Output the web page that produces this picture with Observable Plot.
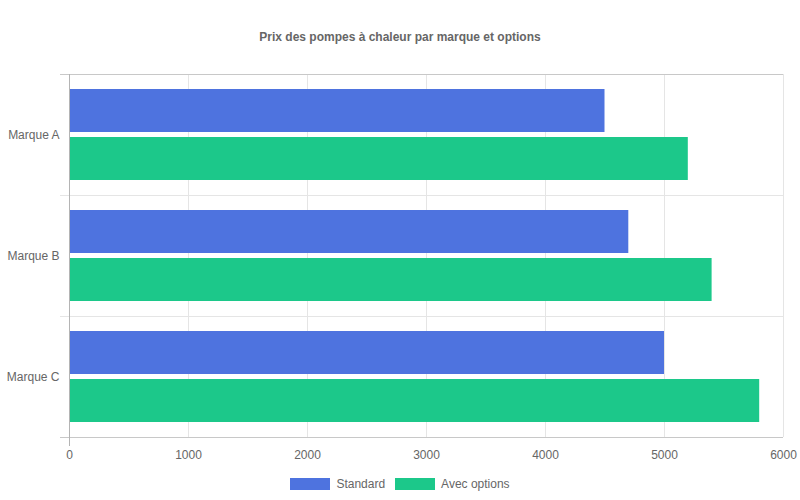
<!DOCTYPE html>
<html>
<head>
<meta charset="utf-8">
<script src="https://cdn.jsdelivr.net/npm/d3@7"></script>
<script src="https://cdn.jsdelivr.net/npm/@observablehq/plot@0.6"></script>
<style>
  html, body { margin: 0; padding: 0; background: #fff; }
  body { width: 800px; height: 500px; position: relative; overflow: hidden;
         font-family: "Liberation Sans", Arial, Helvetica, sans-serif; color: #666; }
  #title { position: absolute; top: 29px; left: 0; width: 800px; text-align: center;
           font-size: 12px; font-weight: bold; color: #666; line-height: 16px; }
  #chart { position: absolute; top: 60px; left: 0; }
  #legend { position: absolute; top: 477px; left: 0; width: 800px; display: flex;
            justify-content: center; font-size: 12px; color: #666; line-height: 14px; }
  .item { display: flex; align-items: center; margin: 0 5px; }
  .swatch { width: 40px; height: 12px; margin-right: 6px; }
</style>
</head>
<body>
<div id="title">Prix des pompes à chaleur par marque et options</div>
<div id="chart"></div>
<div id="legend"></div>
<script>
const brands = ["Marque A", "Marque B", "Marque C"];
const seriesNames = ["Standard", "Avec options"];
const standardPrices = [4500, 4700, 5000];
const optionPrices = [5200, 5400, 5800];
const xTicks = [0, 1000, 2000, 3000, 4000, 5000, 6000];
const colors = ["#4e73df", "#1cc88a"];

const rows = brands.flatMap((b, i) => [
  {brand: b, series: seriesNames[0], value: standardPrices[i]},
  {brand: b, series: seriesNames[1], value: optionPrices[i]}
]);

const W = 800, H = 405, mt = 14, mb = 28, ml = 69, mr = 17;
const bw = (H - mt - mb) / brands.length;

const plot = Plot.plot({
  width: W, height: H,
  marginTop: mt, marginBottom: mb, marginLeft: ml, marginRight: mr,
  style: {fontFamily: '"Liberation Sans", Arial, Helvetica, sans-serif', fontSize: "12px", color: "#666", background: "#fff"},
  x: {domain: [0, 6000]},
  y: {domain: brands, padding: 0},
  marks: [
    Plot.gridX(xTicks, {stroke: "#e5e5e5", strokeOpacity: 1}),
    Plot.ruleY(brands.slice(1), {y: d => d, dy: -bw / 2, stroke: "#e5e5e5", insetLeft: -9}),
    Plot.ruleY(brands.slice(0, 1), {y: d => d, dy: -bw / 2, stroke: "#c8c8c8", insetLeft: -9}),
    Plot.ruleY(brands.slice(-1), {y: d => d, dy: bw / 2, stroke: "#c8c8c8", insetLeft: -9}),
    Plot.barX(rows.filter(d => d.series === seriesNames[0]), {
      x: "value", y: "brand", fill: colors[0], insetTop: 15, insetBottom: bw - 58
    }),
    Plot.barX(rows.filter(d => d.series === seriesNames[1]), {
      x: "value", y: "brand", fill: colors[1], insetTop: bw - 58, insetBottom: 15
    }),
    Plot.ruleX([0], {stroke: "#b4b4b4", insetBottom: -9}),
    Plot.axisX({ticks: xTicks, tickSize: 0, tickPadding: 13, tickFormat: d => String(d), label: null}),
    Plot.axisY({tickSize: 0, tickPadding: 10, label: null})
  ]
});
document.getElementById("chart").appendChild(plot);

const legend = document.getElementById("legend");
seriesNames.forEach((s, i) => {
  const item = document.createElement("div");
  item.className = "item";
  const sw = document.createElement("div");
  sw.className = "swatch";
  sw.style.background = colors[i];
  const t = document.createElement("span");
  t.textContent = s;
  item.appendChild(sw);
  item.appendChild(t);
  legend.appendChild(item);
});
</script>
</body>
</html>
